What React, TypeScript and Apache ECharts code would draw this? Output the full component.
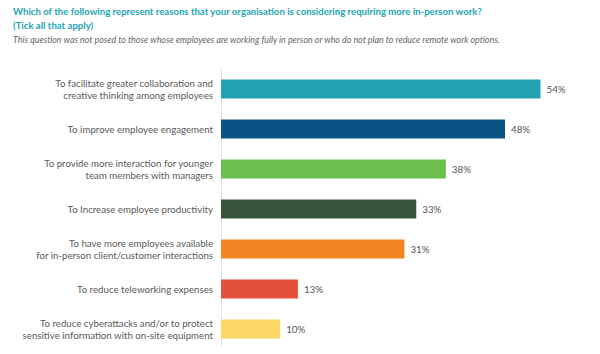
import React, { useEffect, useRef } from "react";
import * as echarts from "echarts";

const categories = [
  "To facilitate greater collaboration and\ncreative thinking among employees",
  "To improve employee engagement",
  "To provide more interaction for younger\nteam members with managers",
  "To Increase employee productivity",
  "To have more employees available\nfor in-person client/customer interactions",
  "To reduce teleworking expenses",
  "To reduce cyberattacks and/or to protect\nsensitive information with on-site equipment",
];
const values = [54, 48, 38, 33, 31, 13, 10];
const colors = ["#22A1B1", "#0A5485", "#6BBF4C", "#37553C", "#F08522", "#E5503D", "#FCD867"];

const titleLine1 =
  "Which of the following represent reasons that your organisation is considering requiring more in-person work?";
const titleLine2 = "(Tick all that apply)";
const subtitle =
  "This question was not posed to those whose employees are working fully in person or who do not plan to reduce remote work options.";

export default function App() {
  const ref = useRef<HTMLDivElement>(null);
  useEffect(() => {
    const chart = echarts.init(ref.current!, null, { renderer: "svg" });
    chart.setOption({
      animation: false,
      backgroundColor: "#ffffff",
      textStyle: { fontFamily: "Lato" },
      graphic: [
        {
          type: "text",
          left: 13,
          top: 4,
          style: {
            text: titleLine1 + "\n" + titleLine2,
            fill: "#22A5B5",
            font: "bold 9.6px Lato",
            lineHeight: 14,
          },
        },
        {
          type: "text",
          left: 13,
          top: 35,
          style: {
            text: subtitle,
            fill: "#666666",
            font: "italic 8.9px Lato",
          },
        },
      ],
      grid: { left: 221, top: 69, width: 355, height: 280 },
      xAxis: {
        type: "value",
        min: 0,
        max: 60,
        show: false,
        splitLine: { show: false },
      },
      yAxis: {
        type: "category",
        inverse: true,
        data: categories,
        axisLine: { show: true, lineStyle: { color: "#e2e2e2", width: 1 } },
        axisTick: { show: false },
        axisLabel: {
          color: "#5a5a5a",
          fontSize: 9.7,
          lineHeight: 11.5,
          margin: 8,
          align: "right",
          fontFamily: "Lato",
        },
      },
      series: [
        {
          type: "bar",
          barWidth: 19,
          data: values.map((v, i) => ({ value: v, itemStyle: { color: colors[i] } })),
          label: {
            show: true,
            position: "right",
            distance: 6,
            formatter: "{c}%",
            color: "#555555",
            fontSize: 9.8,
            fontFamily: "Lato",
          },
        },
      ],
    });
    return () => chart.dispose();
  }, []);
  return <div ref={ref} style={{ width: 600, height: 354, margin: -8 }} />;
}
